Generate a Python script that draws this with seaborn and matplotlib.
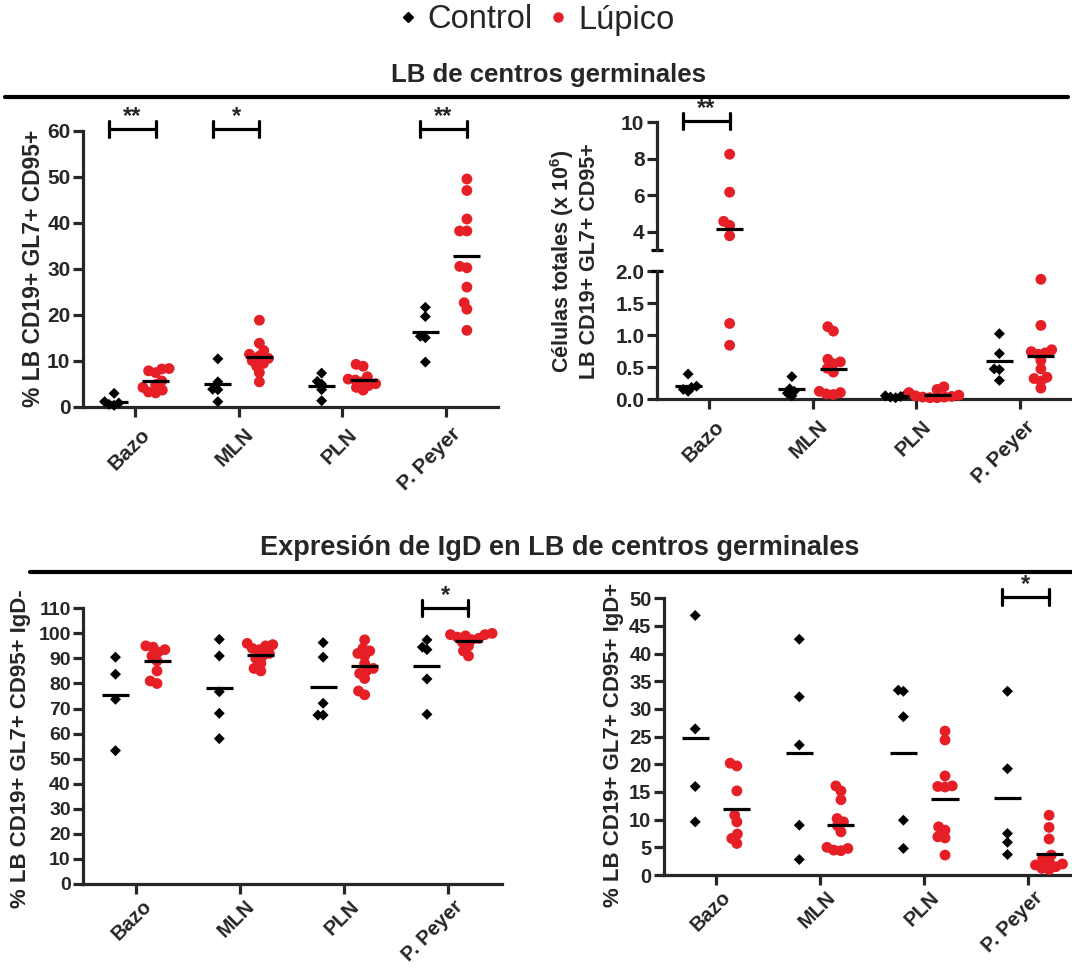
import warnings
warnings.filterwarnings('ignore')
import numpy as np
import pandas as pd
import matplotlib
matplotlib.use('Agg')
import matplotlib.pyplot as plt
from matplotlib.lines import Line2D
from matplotlib.ticker import FormatStrFormatter
import seaborn as sns

# ---------------- data ----------------
tejidos = ['Bazo', 'MLN', 'PLN', 'P. Peyer']
grupos = ['Control', 'Lúpico']

# % LB CD19+ GL7+ CD95+
pctA_control = [[2.9, 1.1, 0.8, 0.5, 0.3],
                [10.4, 5.4, 3.8, 3.7, 1.1],
                [7.3, 5.5, 4.9, 3.7, 1.3],
                [21.6, 19.6, 15.3, 15.0, 9.7]]
pctA_lupico = [[8.3, 8.2, 7.8, 7.4, 5.6, 4.8, 4.2, 3.6, 3.2, 3.0],
               [18.8, 13.8, 12.2, 11.4, 11.0, 10.5, 10.0, 9.4, 8.8, 7.4, 5.4],
               [9.2, 8.8, 6.5, 6.0, 5.8, 5.4, 5.0, 4.6, 4.2, 3.6],
               [49.5, 47.0, 40.8, 38.2, 38.2, 30.5, 30.2, 26.0, 22.6, 21.2, 16.6]]
sigA = ['**', '*', '', '**']

# Celulas totales (x 10^6)
celB_control = [[0.39, 0.2, 0.18, 0.15, 0.12],
                [0.35, 0.16, 0.12, 0.09, 0.05],
                [0.07, 0.05, 0.04, 0.03, 0.02],
                [1.02, 0.71, 0.47, 0.46, 0.29]]
celB_lupico = [[8.25, 6.17, 4.57, 4.35, 3.78, 1.18, 0.84],
               [1.13, 1.06, 0.62, 0.58, 0.55, 0.48, 0.42, 0.12, 0.1, 0.08, 0.07],
               [0.19, 0.15, 0.1, 0.06, 0.05, 0.04, 0.03, 0.03, 0.02, 0.02],
               [1.87, 1.15, 0.77, 0.74, 0.72, 0.7, 0.6, 0.47, 0.34, 0.32, 0.28, 0.17]]
sigB = ['**', '', '', '']

# % IgD-
igdneg_control = [[90.5, 83.7, 73.7, 53.2],
                  [97.6, 91.0, 76.7, 68.1, 58.0],
                  [96.3, 90.5, 72.1, 67.4, 67.4],
                  [97.4, 94.5, 93.5, 81.8, 67.7]]
igdneg_lupico = [[95.0, 94.5, 93.5, 92.5, 91.0, 89.0, 85.0, 81.0, 80.0],
                 [96.0, 95.5, 95.0, 94.0, 93.5, 92.0, 91.0, 90.0, 88.0, 86.0, 85.0],
                 [97.4, 94.0, 93.0, 92.0, 91.0, 88.0, 86.0, 85.0, 84.0, 82.0, 77.0, 75.5],
                 [100.0, 99.5, 99.5, 99.0, 98.5, 98.0, 97.5, 96.5, 95.0, 93.0, 91.0]]
sigC = ['', '', '', '*']

# % IgD+
igdpos_control = [[46.9, 26.4, 16.0, 9.6],
                  [42.6, 32.2, 23.5, 9.0, 2.8],
                  [33.4, 33.2, 28.6, 9.9, 4.8],
                  [33.2, 19.2, 7.5, 5.9, 3.7]]
igdpos_lupico = [[20.2, 19.7, 15.2, 10.8, 9.6, 7.4, 6.6, 5.7],
                 [16.1, 15.2, 13.6, 10.2, 9.6, 8.9, 7.8, 5.0, 4.8, 4.5, 4.4],
                 [26.0, 24.4, 17.9, 16.1, 16.0, 15.9, 8.7, 8.1, 6.9, 6.7, 3.6],
                 [10.8, 8.6, 6.5, 3.6, 3.0, 2.4, 2.0, 1.8, 1.5, 1.2, 1.0]]
sigD = ['', '', '', '*']

# ---------------- style ----------------
sns.set_style('ticks')
plt.rcParams['font.family'] = ['Liberation Sans', 'DejaVu Sans']
plt.rcParams['font.weight'] = 'bold'
plt.rcParams['mathtext.fontset'] = 'custom'
plt.rcParams['mathtext.rm'] = 'Liberation Sans:bold'
plt.rcParams['mathtext.default'] = 'regular'

RED = '#e61e26'
pal = {'Control': 'black', 'Lúpico': RED}
LW = 2.3
W, H = 1072, 971
# (marker, size used to lay out the swarm, size drawn)
MARKERS = {'Control': ('D', 3.6, 5.6), 'Lúpico': ('o', 5.0, 7.8)}

fig = plt.figure(figsize=(W / 100, H / 100), dpi=100)
all_swarm = []


def px_rect(left, top, right, bottom):
    return [left / W, 1 - bottom / H, (right - left) / W, (bottom - top) / H]


def long_df(ctrl, lup):
    rows = []
    for g, arr in (('Control', ctrl), ('Lúpico', lup)):
        for t, vals in zip(tejidos, arr):
            for v in vals:
                rows.append((t, g, v))
    return pd.DataFrame(rows, columns=['tejido', 'grupo', 'valor'])


def swarms(ax, df):
    for g in grupos:
        mk, lay, disp = MARKERS[g]
        sub = df[df['grupo'] == g]
        if len(sub) == 0:
            continue
        n0 = len(ax.collections)
        sns.swarmplot(data=sub, x='tejido', y='valor', hue='grupo',
                      order=tejidos, hue_order=grupos, dodge=True,
                      palette=pal, marker=mk, size=lay, linewidth=0,
                      legend=False, ax=ax)
        for c in ax.collections[n0:]:
            c.set_clip_on(False)
            c.set_zorder(3)
            all_swarm.append((c, disp))
    ax.set_ylabel('')


def mean_lines(axes_for, df):
    means = df.groupby(['tejido', 'grupo'])['valor'].mean()
    for (t, g), m in means.items():
        x = tejidos.index(t) + (-0.2 if g == 'Control' else 0.2)
        ax = axes_for(m)
        ax.plot([x - 0.13, x + 0.13], [m, m], color='black', lw=LW,
                solid_capstyle='butt', zorder=5, clip_on=False)


def brackets(ax, sig, ybr, cap_px=8):
    inv = ax.transData.inverted()
    for i, s in enumerate(sig):
        if not s:
            continue
        x1, x2 = i - 0.25, i + 0.2
        y0 = ax.transData.transform((0, ybr))[1]
        ylo = inv.transform((0, y0 - cap_px))[1]
        yhi = inv.transform((0, y0 + cap_px))[1]
        ax.plot([x1, x2], [ybr, ybr], color='black', lw=LW, clip_on=False, zorder=6)
        ax.plot([x1, x1], [ylo, yhi], color='black', lw=LW, clip_on=False, zorder=6)
        ax.plot([x2, x2], [ylo, yhi], color='black', lw=LW, clip_on=False, zorder=6)
        ax.text((x1 + x2) / 2, ybr + (yhi - ybr) * 0.15, s, ha='center', va='bottom',
                fontsize=17, fontweight='bold', clip_on=False)


def style_axes(ax, ticksize, xlabels=True, xlabsize=15, dy=-0.12):
    sns.despine(ax=ax)
    for sp in ('left', 'bottom'):
        ax.spines[sp].set_linewidth(LW)
    ax.tick_params(width=LW, length=7, labelsize=ticksize, pad=2)
    ax.set_xlabel('')
    ax.set_xticks(range(len(tejidos)))
    if xlabels:
        ax.set_xticklabels(tejidos, rotation=45, ha='right', va='center',
                           rotation_mode='anchor', fontsize=xlabsize, fontweight='bold')
        for lab in ax.get_xticklabels():
            lab.set_transform(lab.get_transform() +
                              matplotlib.transforms.ScaledTranslation(0.12, dy, fig.dpi_scale_trans))
    for lab in ax.get_yticklabels():
        lab.set_fontweight('bold')


# ---------------- panel A ----------------
axA = fig.add_axes(px_rect(83, 130.7, 498, 406.7))
dfA = long_df(pctA_control, pctA_lupico)
swarms(axA, dfA)
axA.set_xlim(-0.5, 3.5)
axA.set_ylim(0, 60)
axA.set_yticks(np.arange(0, 61, 10))
style_axes(axA, 15)
mean_lines(lambda m: axA, dfA)
axA.set_ylabel('% LB CD19+ GL7+ CD95+', fontsize=16.5, fontweight='bold', va='center')
axA.yaxis.set_label_coords(-0.12, 0.5)

# ---------------- panel B (broken axis) ----------------
axBt = fig.add_axes(px_rect(657, 122.3, 1072, 250))
axBb = fig.add_axes(px_rect(657, 271, 1072, 399))
dfB = long_df(celB_control, celB_lupico)
swarms(axBt, dfB[dfB['valor'] >= 3])
swarms(axBb, dfB[dfB['valor'] <= 2])
for ax in (axBt, axBb):
    ax.set_xlim(-0.5, 3.5)
axBt.set_ylim(3, 10)
axBt.set_yticks([4, 6, 8, 10])
axBb.set_ylim(0, 2)
axBb.set_yticks([0, 0.5, 1.0, 1.5, 2.0])
axBb.yaxis.set_major_formatter(FormatStrFormatter('%.1f'))
style_axes(axBb, 15)
style_axes(axBt, 15, xlabels=False)
axBt.spines['bottom'].set_visible(False)
axBt.tick_params(axis='x', bottom=False, labelbottom=False)
axBt.plot([-0.014, 0.014], [0, 0], transform=axBt.transAxes, color='black',
          lw=LW, clip_on=False, solid_capstyle='butt')
axBb.plot([-0.014, 0.014], [1, 1], transform=axBb.transAxes, color='black',
          lw=LW, clip_on=False, solid_capstyle='butt')
mean_lines(lambda m: axBt if m >= 3 else axBb, dfB)
axBt.set_ylabel('')
axBb.set_ylabel('Células totales (x 10$^{6}$)\nLB CD19+ GL7+ CD95+', fontsize=15.5,
                fontweight='bold', va='center', linespacing=1.15)
axBb.yaxis.set_label_coords(-0.2, 1.08)

# ---------------- panel C ----------------
axC = fig.add_axes(px_rect(83.3, 608.3, 501.7, 884))
dfC = long_df(igdneg_control, igdneg_lupico)
swarms(axC, dfC)
axC.set_xlim(-0.51, 3.52)
axC.set_ylim(0, 110)
axC.set_yticks(np.arange(0, 111, 10))
style_axes(axC, 14, xlabsize=14.5, dy=-0.07)
mean_lines(lambda m: axC, dfC)
axC.set_ylabel('% LB CD19+ GL7+ CD95+ IgD-', fontsize=16, fontweight='bold', va='center')
axC.yaxis.set_label_coords(-0.15, 0.49)

# ---------------- panel D ----------------
axD = fig.add_axes(px_rect(664, 598.3, 1072, 875))
dfD = long_df(igdpos_control, igdpos_lupico)
swarms(axD, dfD)
axD.set_xlim(-0.5, 3.42)
axD.set_ylim(0, 50)
axD.set_yticks(np.arange(0, 51, 5))
style_axes(axD, 14.5, xlabsize=14.5, dy=-0.07)
mean_lines(lambda m: axD, dfD)
axD.set_ylabel('% LB CD19+ GL7+ CD95+ IgD+', fontsize=16, fontweight='bold', va='center')
axD.yaxis.set_label_coords(-0.125, 0.47)

# significance brackets
brackets(axA, sigA, 60.4)
brackets(axBt, sigB, 10.05)
brackets(axC, sigC, 110)
brackets(axD, sigD, 50.2)

# ---------------- titles, rules, legend ----------------
fig.text(0.512, 1 - 75 / H, 'LB de centros germinales', ha='center', va='center',
         fontsize=18.5, fontweight='bold')
fig.add_artist(Line2D([5 / W, 1068 / W], [1 - 97 / H, 1 - 97 / H], color='black', lw=3))
fig.text(0.522, 1 - 548 / H, 'Expresión de IgD en LB de centros germinales', ha='center',
         va='center', fontsize=19.5, fontweight='bold')
fig.add_artist(Line2D([30 / W, 1.0], [1 - 572 / H, 1 - 572 / H], color='black', lw=3))

handles = [Line2D([], [], marker='D', color='black', linestyle='', markersize=5),
           Line2D([], [], marker='o', color=RED, linestyle='', markersize=6.5)]
fig.legend(handles, grupos, loc='center', bbox_to_anchor=(0.5, 1 - 20 / H), ncol=2,
           frameon=False, prop={'size': 23.5, 'weight': 'normal'}, handlelength=0.6,
           handletextpad=0.3, columnspacing=0.5)

# lay out the swarms tightly (GraphPad-like overlap), then draw markers full size
fig.canvas.draw()
for c, disp in all_swarm:
    if 'draw' in c.__dict__:
        del c.draw
    c.set_sizes([disp ** 2])

fig.savefig('out.png', dpi=100)
